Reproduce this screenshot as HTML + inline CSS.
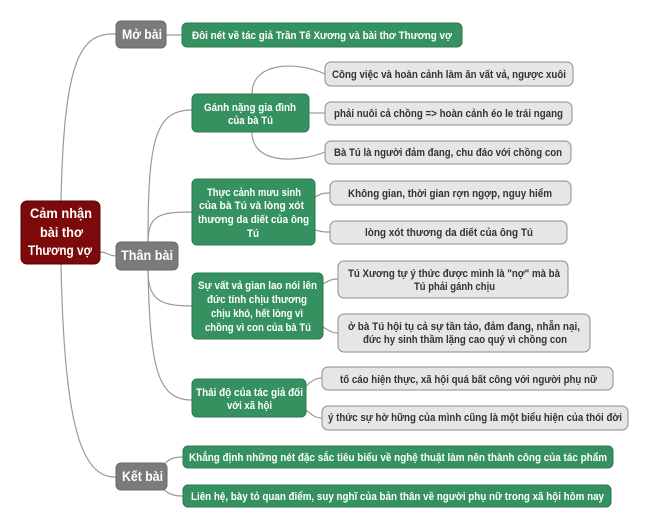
<!DOCTYPE html>
<html><head><meta charset="utf-8"><style>
html,body{margin:0;padding:0;background:#fff;}
svg{display:block;}
text{font-family:"Liberation Sans","DejaVu Sans",sans-serif;font-weight:bold;}
.w{fill:#fff;font-size:11px;}
.d{fill:#333;font-size:11px;}
.big{fill:#fff;font-size:14px;}
.g{fill:#35915f;stroke:#2b7a4f;stroke-width:1;}
.c{fill:#e6e6e6;stroke:#8c8c8c;stroke-width:1;}
.m{fill:#7b7b7b;stroke:#6a6a6a;stroke-width:1;}
.l{fill:none;stroke:#9a9a9a;stroke-width:1.2;}
</style></head><body>
<svg width="650" height="530" viewBox="0 0 650 530" xmlns="http://www.w3.org/2000/svg">
<!-- connectors -->
<path class="l" d="M61,201 C64,60 80,32 116,34"/>
<path class="l" d="M61,264 C64,420 80,478 116,477"/>
<path class="l" d="M100,252 C108,252 108,256 116,256"/>
<path class="l" d="M166,35 L182,35"/>
<path class="l" d="M148,242 C148,140 155,110 192,110"/>
<path class="l" d="M148,242 C148,215 160,212 192,212"/>
<path class="l" d="M148,270 C148,300 160,306 192,306"/>
<path class="l" d="M148,270 C150,370 158,400 192,400"/>
<path class="l" d="M252,94 C252,60 300,62 325,74"/>
<path class="l" d="M309,113 L325,113"/>
<path class="l" d="M252,132 C252,166 300,162 325,152"/>
<path class="l" d="M315,197 C322,193 325,193 330,193"/>
<path class="l" d="M315,230 C322,232 325,232 330,232"/>
<path class="l" d="M323,284 C330,280 332,279 338,279"/>
<path class="l" d="M323,327 C330,331 332,333 338,333"/>
<path class="l" d="M306,386 C313,380 316,378 322,378"/>
<path class="l" d="M306,410 C313,416 316,418 322,418"/>
<path class="l" d="M163,465 C170,458 175,457 183,457"/>
<path class="l" d="M163,489 C170,495 175,496 183,496"/>

<!-- root -->
<rect x="21" y="201" width="79" height="63" rx="6" fill="#7d0a0a" stroke="#5a0000"/>
<text class="big" x="30" y="218" textLength="62" lengthAdjust="spacingAndGlyphs">Cảm nhận</text>
<text class="big" x="40" y="237" textLength="43" lengthAdjust="spacingAndGlyphs">bài thơ</text>
<text class="big" x="28" y="255" textLength="64" lengthAdjust="spacingAndGlyphs">Thương vợ</text>

<!-- main gray nodes -->
<rect class="m" x="116" y="21" width="50" height="27" rx="5"/>
<text class="big" x="122" y="39" textLength="40" lengthAdjust="spacingAndGlyphs">Mở bài</text>
<rect class="m" x="116" y="242" width="62" height="28" rx="5"/>
<text class="big" x="121" y="260" textLength="52" lengthAdjust="spacingAndGlyphs">Thân bài</text>
<rect class="m" x="116" y="463" width="51" height="27" rx="5"/>
<text class="big" x="122" y="481" textLength="41" lengthAdjust="spacingAndGlyphs">Kết bài</text>

<!-- green nodes -->
<rect class="g" x="182" y="23" width="280" height="24" rx="5"/>
<text class="w" x="192" y="39" textLength="260" lengthAdjust="spacingAndGlyphs">Đôi nét về tác giả Trần Tế Xương và bài thơ Thương vợ</text>

<rect class="g" x="192" y="94" width="117" height="38" rx="5"/>
<text class="w" x="204" y="111" textLength="92" lengthAdjust="spacingAndGlyphs">Gánh nặng gia đình</text>
<text class="w" x="228" y="124" textLength="45" lengthAdjust="spacingAndGlyphs">của bà Tú</text>

<rect class="g" x="192" y="179" width="123" height="66" rx="5"/>
<text class="w" x="207" y="196" textLength="94" lengthAdjust="spacingAndGlyphs">Thực cảnh mưu sinh</text>
<text class="w" x="199" y="209" textLength="105" lengthAdjust="spacingAndGlyphs">của bà Tú và lòng xót</text>
<text class="w" x="198" y="223" textLength="111" lengthAdjust="spacingAndGlyphs">thương da diết của ông</text>
<text class="w" x="247" y="237" textLength="12" lengthAdjust="spacingAndGlyphs">Tú</text>

<rect class="g" x="192" y="273" width="131" height="66" rx="5"/>
<text class="w" x="198" y="289" textLength="119" lengthAdjust="spacingAndGlyphs">Sự vất vả gian lao nói lên</text>
<text class="w" x="207" y="303" textLength="100" lengthAdjust="spacingAndGlyphs">đức tính chịu thương</text>
<text class="w" x="211" y="317" textLength="92" lengthAdjust="spacingAndGlyphs">chịu khó, hết lòng vì</text>
<text class="w" x="205" y="331" textLength="106" lengthAdjust="spacingAndGlyphs">chồng vì con của bà Tú</text>

<rect class="g" x="192" y="379" width="114" height="38" rx="5"/>
<text class="w" x="196" y="396" textLength="107" lengthAdjust="spacingAndGlyphs">Thái độ của tác giả đối</text>
<text class="w" x="227" y="409" textLength="45" lengthAdjust="spacingAndGlyphs">với xã hội</text>

<rect class="g" x="183" y="446" width="430" height="22" rx="5"/>
<text class="w" x="189" y="461" textLength="418" lengthAdjust="spacingAndGlyphs">Khẳng định những nét đặc sắc tiêu biểu về nghệ thuật làm nên thành công của tác phẩm</text>
<rect class="g" x="183" y="485" width="428" height="22" rx="5"/>
<text class="w" x="191" y="500" textLength="413" lengthAdjust="spacingAndGlyphs">Liên hệ, bày tỏ quan điểm, suy nghĩ của bản thân về người phụ nữ trong xã hội hôm nay</text>

<!-- gray children -->
<rect class="c" x="325" y="62" width="248" height="24" rx="6"/>
<text class="d" x="332" y="78" textLength="234" lengthAdjust="spacingAndGlyphs">Công việc và hoàn cảnh làm ăn vất vả, ngược xuôi</text>
<rect class="c" x="325" y="102" width="247" height="23" rx="6"/>
<text class="d" x="334" y="117" textLength="229" lengthAdjust="spacingAndGlyphs">phải nuôi cả chồng =&gt; hoàn cảnh éo le trái ngang</text>
<rect class="c" x="325" y="141" width="246" height="23" rx="6"/>
<text class="d" x="334" y="156" textLength="228" lengthAdjust="spacingAndGlyphs">Bà Tú là người đảm đang, chu đáo với chồng con</text>
<rect class="c" x="330" y="181" width="241" height="24" rx="6"/>
<text class="d" x="348" y="197" textLength="204" lengthAdjust="spacingAndGlyphs">Không gian, thời gian rợn ngợp, nguy hiểm</text>
<rect class="c" x="330" y="221" width="237" height="23" rx="6"/>
<text class="d" x="365" y="236" textLength="168" lengthAdjust="spacingAndGlyphs">lòng xót thương da diết của ông Tú</text>

<rect class="c" x="338" y="261" width="230" height="37" rx="6"/>
<text class="d" x="348" y="277" textLength="212" lengthAdjust="spacingAndGlyphs">Tú Xương tự ý thức được mình là "nợ" mà bà</text>
<text class="d" x="414" y="290" textLength="81" lengthAdjust="spacingAndGlyphs">Tú phải gánh chịu</text>
<rect class="c" x="338" y="314" width="252" height="38" rx="6"/>
<text class="d" x="348" y="330" textLength="232" lengthAdjust="spacingAndGlyphs">ở bà Tú hội tụ cả sự tần tảo, đảm đang, nhẫn nại,</text>
<text class="d" x="363" y="343" textLength="204" lengthAdjust="spacingAndGlyphs">đức hy sinh thầm lặng cao quý vì chồng con</text>

<rect class="c" x="322" y="367" width="291" height="23" rx="6"/>
<text class="d" x="340" y="383" textLength="257" lengthAdjust="spacingAndGlyphs">tố cáo hiện thực, xã hội quá bất công với người phụ nữ</text>
<rect class="c" x="322" y="406" width="306" height="24" rx="6"/>
<text class="d" x="328" y="421" textLength="294" lengthAdjust="spacingAndGlyphs">ý thức sự hờ hững của mình cũng là một biểu hiện của thói đời</text>
</svg>
</body></html>
